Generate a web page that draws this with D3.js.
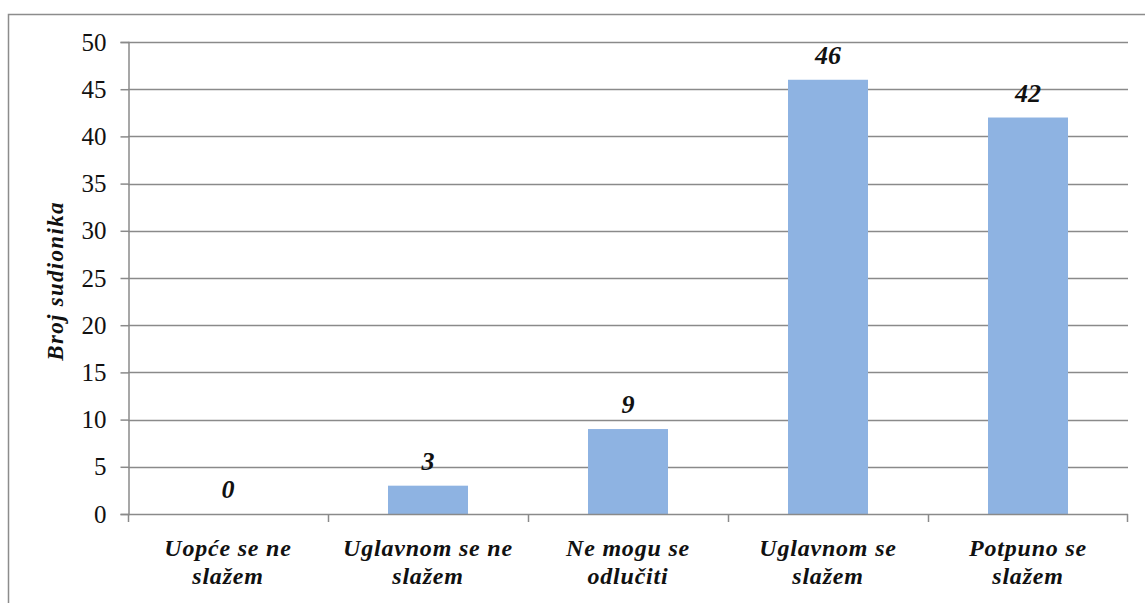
<!DOCTYPE html>
<html>
<head>
<meta charset="utf-8">
<script src="https://cdn.jsdelivr.net/npm/d3@7"></script>
<style>
body { margin: 0; background: #fff; }
text { font-family: "Liberation Serif", "Times New Roman", serif; }
</style>
</head>
<body>
<div id="viz"></div>
<script>
var categories = [["Uopće se ne", "slažem"], ["Uglavnom se ne", "slažem"], ["Ne mogu se", "odlučiti"], ["Uglavnom se", "slažem"], ["Potpuno se", "slažem"]];
var values = [0, 3, 9, 46, 42];
var yTicks = [0, 5, 10, 15, 20, 25, 30, 35, 40, 45, 50];
var yTitle = "Broj sudionika";

var W = 1145, H = 603;
var svg = d3.select("#viz").append("svg").attr("width", W).attr("height", H);

// outer frame (cropped on right and bottom)
svg.append("path")
    .attr("d", "M8.5," + H + "V14.5H" + W)
    .attr("fill", "none")
    .attr("stroke", "#8c8c8c")
    .attr("stroke-width", 1.5);

var pLeft = 128, pRight = 1128, pTop = 42, pBottom = 514;

var x = d3.scaleBand().domain(d3.range(categories.length)).range([pLeft, pRight]);
var y = d3.scaleLinear().domain([0, 50]).range([pBottom, pTop]);

// gridlines
svg.append("g").selectAll("line").data(yTicks.filter(function(d) { return d > 0; })).enter()
    .append("line")
    .attr("x1", pLeft).attr("x2", pRight)
    .attr("y1", function(d) { return Math.round(y(d)) + 0.5; })
    .attr("y2", function(d) { return Math.round(y(d)) + 0.5; })
    .attr("stroke", "#8a8a8a").attr("stroke-width", 1.5);

// bars
var bw = 80;
svg.append("g").selectAll("rect").data(values).enter()
    .append("rect")
    .attr("x", function(d, i) { return x(i) + x.bandwidth() / 2 - bw / 2; })
    .attr("y", function(d) { return y(d); })
    .attr("width", bw)
    .attr("height", function(d) { return pBottom - y(d); })
    .attr("fill", "#8eb3e2");

// y axis
var yAxis = d3.axisLeft(y).tickValues(yTicks).tickSize(8).tickPadding(14);
var gy = svg.append("g").attr("transform", "translate(" + (pLeft + 0.5) + ",0)").call(yAxis);
gy.select(".domain").attr("stroke", "#8a8a8a").attr("stroke-width", 1.5);
gy.selectAll(".tick line").attr("stroke", "#8a8a8a").attr("stroke-width", 1.5);
gy.selectAll(".tick text").attr("font-size", 25).attr("fill", "#111")
    .style("font-family", "'Liberation Serif', serif");

// x axis baseline and ticks
var gx = svg.append("g");
gx.append("line").attr("x1", pLeft).attr("x2", pRight)
    .attr("y1", pBottom + 0.5).attr("y2", pBottom + 0.5)
    .attr("stroke", "#8a8a8a").attr("stroke-width", 1.5);
gx.selectAll("line.tk").data(d3.range(categories.length + 1)).enter()
    .append("line").attr("class", "tk")
    .attr("x1", function(d) { return d < categories.length ? x(d) + 0.5 : pRight - 0.5; })
    .attr("x2", function(d) { return d < categories.length ? x(d) + 0.5 : pRight - 0.5; })
    .attr("y1", pBottom).attr("y2", pBottom + 8)
    .attr("stroke", "#8a8a8a").attr("stroke-width", 1.5);

// x labels
var xl = gx.selectAll("text.cat").data(categories).enter()
    .append("text").attr("class", "cat")
    .attr("text-anchor", "middle")
    .attr("font-size", 24).attr("font-weight", "bold").attr("font-style", "italic")
    .style("letter-spacing", "0.8px")
    .attr("fill", "#111");
xl.each(function(d, i) {
    var t = d3.select(this);
    d.forEach(function(line, j) {
        t.append("tspan").attr("x", x(i) + x.bandwidth() / 2).attr("y", 556 + j * 28).text(line);
    });
});

// value labels
svg.append("g").selectAll("text").data(values).enter()
    .append("text")
    .attr("x", function(d, i) { return x(i) + x.bandwidth() / 2; })
    .attr("y", function(d) { return y(d) - 16; })
    .attr("text-anchor", "middle")
    .attr("font-size", 26).attr("font-weight", "bold").attr("font-style", "italic")
    .attr("fill", "#111")
    .text(function(d) { return d; });

// y title
svg.append("text")
    .attr("transform", "translate(63,281) rotate(-90)")
    .attr("text-anchor", "middle")
    .attr("font-size", 23).attr("font-weight", "bold").attr("font-style", "italic")
    .style("letter-spacing", "1.3px")
    .attr("fill", "#111")
    .text(yTitle);
</script>
</body>
</html>
